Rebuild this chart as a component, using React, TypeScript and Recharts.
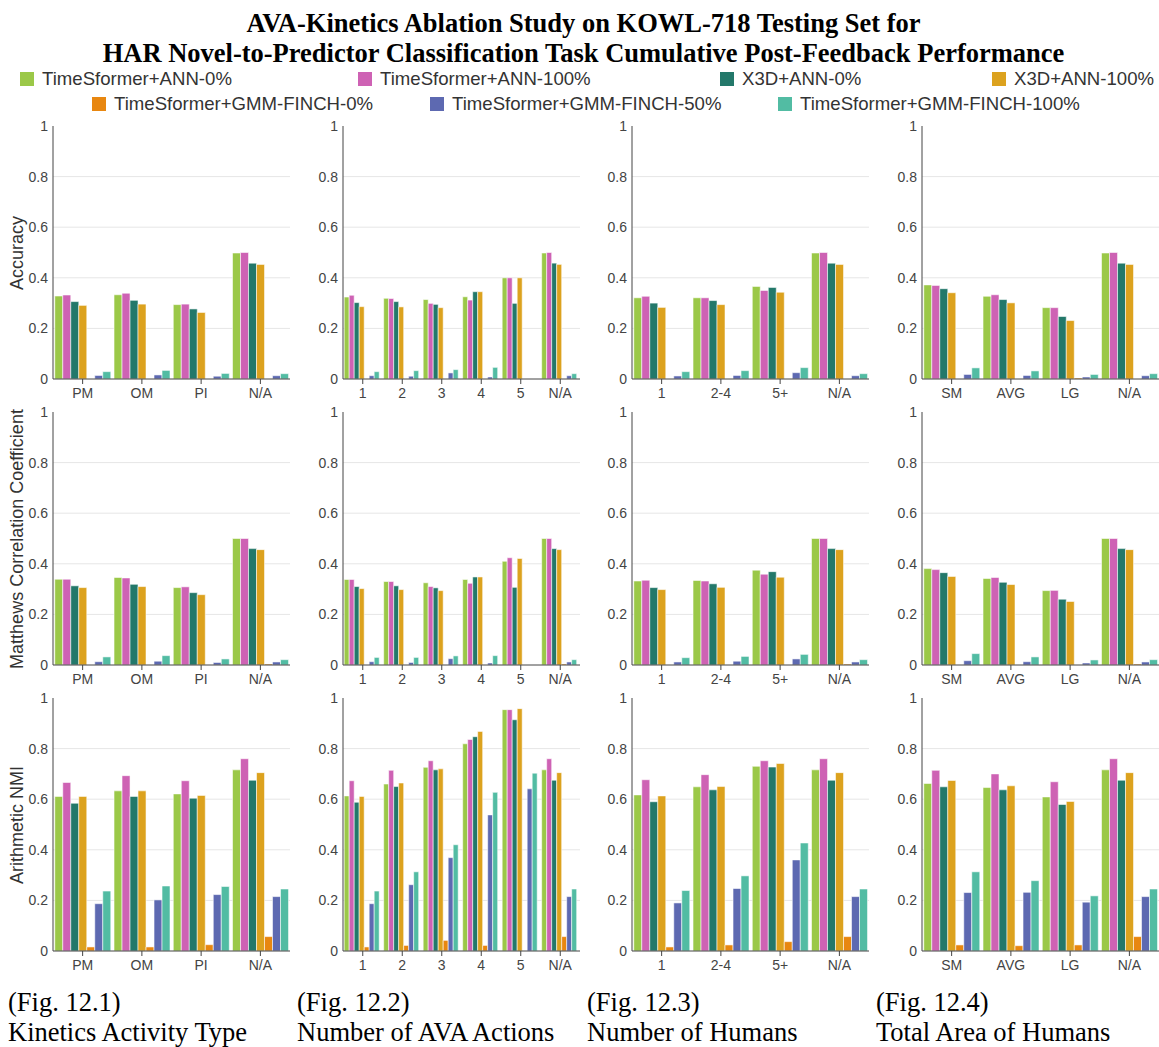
import React from "react";
import { BarChart, Bar, XAxis, YAxis, CartesianGrid } from "recharts";

// series names + colours (legend order)
const SERIES = [
  "TimeSformer+ANN-0%",
  "TimeSformer+ANN-100%",
  "X3D+ANN-0%",
  "X3D+ANN-100%",
  "TimeSformer+GMM-FINCH-0%",
  "TimeSformer+GMM-FINCH-50%",
  "TimeSformer+GMM-FINCH-100%",
];
const COLORS = ["#9BC848", "#CE62B4", "#23786A", "#DCA21E", "#E88710", "#5D69B1", "#52BCA3"];

// x categories per column
const activityCats = ["PM", "OM", "PI", "N/A"];
const actionCats = ["1", "2", "3", "4", "5", "N/A"];
const humanCats = ["1", "2-4", "5+", "N/A"];
const areaCats = ["SM", "AVG", "LG", "N/A"];

const Y_TICKS = [0, 0.2, 0.4, 0.6, 0.8, 1];

// one row per series, one value per category
const accActivity = [
  [0.328, 0.333, 0.294, 0.498],
  [0.332, 0.339, 0.296, 0.5],
  [0.306, 0.311, 0.277, 0.458],
  [0.291, 0.296, 0.263, 0.453],
  [0, 0, 0, 0],
  [0.014, 0.016, 0.011, 0.013],
  [0.029, 0.034, 0.022, 0.021],
];
const accActions = [
  [0.324, 0.319, 0.314, 0.325, 0.4, 0.498],
  [0.331, 0.318, 0.299, 0.312, 0.4, 0.5],
  [0.302, 0.306, 0.295, 0.345, 0.299, 0.458],
  [0.286, 0.285, 0.282, 0.345, 0.4, 0.453],
  [0, 0, 0, 0, 0, 0],
  [0.013, 0.011, 0.024, 0.008, 0, 0.013],
  [0.029, 0.033, 0.037, 0.046, 0, 0.021],
];
const accHumans = [
  [0.321, 0.321, 0.366, 0.498],
  [0.327, 0.321, 0.35, 0.5],
  [0.3, 0.31, 0.362, 0.458],
  [0.283, 0.294, 0.343, 0.453],
  [0, 0, 0, 0],
  [0.012, 0.014, 0.025, 0.013],
  [0.029, 0.033, 0.045, 0.021],
];
const accArea = [
  [0.372, 0.327, 0.282, 0.498],
  [0.37, 0.333, 0.282, 0.5],
  [0.357, 0.314, 0.247, 0.458],
  [0.341, 0.301, 0.231, 0.453],
  [0, 0, 0.004, 0],
  [0.018, 0.014, 0.008, 0.013],
  [0.044, 0.032, 0.018, 0.021],
];

const mccActivity = [
  [0.339, 0.346, 0.306, 0.5],
  [0.339, 0.344, 0.309, 0.5],
  [0.313, 0.319, 0.286, 0.46],
  [0.306, 0.31, 0.278, 0.456],
  [0, 0, 0, 0.004],
  [0.013, 0.015, 0.01, 0.012],
  [0.032, 0.037, 0.024, 0.021],
];
const mccActions = [
  [0.338, 0.33, 0.325, 0.338, 0.41, 0.5],
  [0.338, 0.33, 0.31, 0.323, 0.424, 0.5],
  [0.31, 0.313, 0.305, 0.348, 0.307, 0.46],
  [0.302, 0.298, 0.294, 0.348, 0.421, 0.456],
  [0, 0, 0, 0, 0, 0.004],
  [0.013, 0.01, 0.025, 0.008, 0, 0.012],
  [0.03, 0.03, 0.036, 0.037, 0, 0.021],
];
const mccHumans = [
  [0.332, 0.334, 0.375, 0.5],
  [0.335, 0.332, 0.359, 0.5],
  [0.306, 0.321, 0.369, 0.46],
  [0.298, 0.307, 0.347, 0.456],
  [0, 0, 0, 0.004],
  [0.012, 0.015, 0.024, 0.012],
  [0.029, 0.034, 0.042, 0.021],
];
const mccArea = [
  [0.381, 0.342, 0.294, 0.5],
  [0.377, 0.346, 0.295, 0.5],
  [0.365, 0.327, 0.26, 0.46],
  [0.35, 0.318, 0.251, 0.456],
  [0, 0, 0, 0.004],
  [0.017, 0.013, 0.008, 0.012],
  [0.045, 0.032, 0.02, 0.021],
];

const nmiActivity = [
  [0.611, 0.633, 0.621, 0.716],
  [0.666, 0.693, 0.673, 0.76],
  [0.584, 0.611, 0.604, 0.675],
  [0.611, 0.633, 0.615, 0.705],
  [0.016, 0.016, 0.025, 0.057],
  [0.187, 0.202, 0.223, 0.215],
  [0.237, 0.257, 0.255, 0.245],
];
const nmiActions = [
  [0.613, 0.66, 0.726, 0.819, 0.954, 0.716],
  [0.673, 0.714, 0.752, 0.836, 0.954, 0.76],
  [0.588, 0.65, 0.716, 0.847, 0.914, 0.675],
  [0.611, 0.664, 0.72, 0.868, 0.958, 0.705],
  [0.016, 0.022, 0.042, 0.022, 0, 0.057],
  [0.187, 0.262, 0.369, 0.538, 0.641, 0.215],
  [0.237, 0.313, 0.42, 0.627, 0.703, 0.245],
];
const nmiHumans = [
  [0.617, 0.649, 0.73, 0.716],
  [0.677, 0.697, 0.752, 0.76],
  [0.59, 0.637, 0.727, 0.675],
  [0.613, 0.65, 0.741, 0.705],
  [0.016, 0.024, 0.037, 0.057],
  [0.19, 0.247, 0.36, 0.215],
  [0.239, 0.297, 0.427, 0.245],
];
const nmiArea = [
  [0.662, 0.646, 0.609, 0.716],
  [0.714, 0.7, 0.669, 0.76],
  [0.649, 0.637, 0.579, 0.675],
  [0.674, 0.653, 0.591, 0.705],
  [0.024, 0.021, 0.024, 0.057],
  [0.231, 0.232, 0.193, 0.215],
  [0.313, 0.278, 0.218, 0.245],
];

const ROW_LABELS = ["Accuracy", "Matthews Correlation Coefficient", "Arithmetic NMI"];
const COL_CATS = [activityCats, actionCats, humanCats, areaCats];
const GRID = [
  [accActivity, accActions, accHumans, accArea],
  [mccActivity, mccActions, mccHumans, mccArea],
  [nmiActivity, nmiActions, nmiHumans, nmiArea],
];
const FIG_IDS = ["(Fig. 12.1)", "(Fig. 12.2)", "(Fig. 12.3)", "(Fig. 12.4)"];
const FIG_NAMES = ["Kinetics Activity Type", "Number of AVA Actions", "Number of Humans", "Total Area of Humans"];

// layout
const PLOT_LEFT = [53, 343, 632, 922];
const PLOT_TOP = [126, 412, 698];
const PLOT_W = 237;
const PLOT_H = 253;
const YAXIS_W = 45;
const SANS = "'Liberation Sans', Arial, sans-serif";
const SERIF = "'Liberation Serif', 'Times New Roman', serif";

function Panel({ cats, values, left, top }: { cats: string[]; values: number[][]; left: number; top: number }) {
  const data = cats.map((c, i) => {
    const row: Record<string, any> = { cat: c };
    values.forEach((s, k) => (row["s" + k] = s[i]));
    return row;
  });
  return (
    <div style={{ position: "absolute", left: left - YAXIS_W, top: top - 10 }}>
      <BarChart
        width={YAXIS_W + PLOT_W + 8}
        height={10 + PLOT_H + 30}
        data={data}
        margin={{ top: 10, right: 8, left: 0, bottom: 0 }}
        barCategoryGap="3%"
        barGap={0}
      >
        <CartesianGrid vertical={false} stroke="#e6e6e6" horizontalValues={[0.2, 0.4, 0.6, 0.8]} />
        <XAxis
          dataKey="cat"
          interval={0}
          height={30}
          tickSize={5}
          tickMargin={4}
          tick={{ fontSize: 14, fill: "#444", fontFamily: SANS }}
          tickLine={{ stroke: "#444" }}
          axisLine={{ stroke: "#444" }}
        />
        <YAxis
          type="number"
          domain={[0, 1]}
          ticks={Y_TICKS}
          interval={0}
          width={YAXIS_W}
          tickLine={false}
          tickSize={5}
          tickMargin={0}
          tick={{ fontSize: 14, fill: "#444", fontFamily: SANS }}
          axisLine={{ stroke: "#444" }}
        />
        {SERIES.map((name, k) => (
          <Bar
            key={name}
            name={name}
            dataKey={"s" + k}
            fill={COLORS[k]}
            stroke="#ffffff"
            strokeOpacity={0.55}
            strokeWidth={1}
            isAnimationActive={false}
          />
        ))}
      </BarChart>
    </div>
  );
}

function LegendItem({ idx, left, top }: { idx: number; left: number; top: number }) {
  return (
    <div style={{ position: "absolute", left, top, display: "flex", alignItems: "center", whiteSpace: "nowrap" }}>
      <span style={{ width: 14, height: 14, background: COLORS[idx], display: "inline-block", marginRight: 8 }} />
      <span style={{ fontSize: 18.6, color: "#333", fontFamily: SANS }}>{SERIES[idx]}</span>
    </div>
  );
}

export default function App() {
  return (
    <div style={{ position: "absolute", left: 0, top: 0, width: 1159, height: 1047, background: "#fff", overflow: "hidden" }}>
      <div
        style={{
          position: "absolute",
          left: 4,
          top: 8,
          width: 1159,
          textAlign: "center",
          fontFamily: SERIF,
          fontWeight: "bold",
          fontSize: 26.5,
          lineHeight: "30px",
          color: "#000",
        }}
      >
        <div>AVA-Kinetics Ablation Study on KOWL-718 Testing Set for</div>
        <div>HAR Novel-to-Predictor Classification Task Cumulative Post-Feedback Performance</div>
      </div>

      <LegendItem idx={0} left={20} top={68} />
      <LegendItem idx={1} left={358} top={68} />
      <LegendItem idx={2} left={720} top={68} />
      <LegendItem idx={3} left={992} top={68} />
      <LegendItem idx={4} left={92} top={93} />
      <LegendItem idx={5} left={430} top={93} />
      <LegendItem idx={6} left={778} top={93} />

      {GRID.map((row, r) =>
        row.map((vals, c) => (
          <Panel key={r + "-" + c} cats={COL_CATS[c]} values={vals} left={PLOT_LEFT[c]} top={PLOT_TOP[r]} />
        ))
      )}

      {ROW_LABELS.map((lab, r) => (
        <div
          key={lab}
          style={{
            position: "absolute",
            left: 17,
            top: PLOT_TOP[r] + PLOT_H / 2,
            transform: "translate(-50%, -50%) rotate(-90deg)",
            whiteSpace: "nowrap",
            fontSize: 18,
            color: "#333",
            fontFamily: SANS,
          }}
        >
          {lab}
        </div>
      ))}

      {FIG_IDS.map((id, c) => (
        <div
          key={id}
          style={{
            position: "absolute",
            left: [8, 297, 587, 876][c],
            top: 987,
            fontFamily: SERIF,
            fontSize: 26.5,
            lineHeight: "30px",
            color: "#000",
            whiteSpace: "nowrap",
          }}
        >
          <div>{id}</div>
          <div>{FIG_NAMES[c]}</div>
        </div>
      ))}
    </div>
  );
}
